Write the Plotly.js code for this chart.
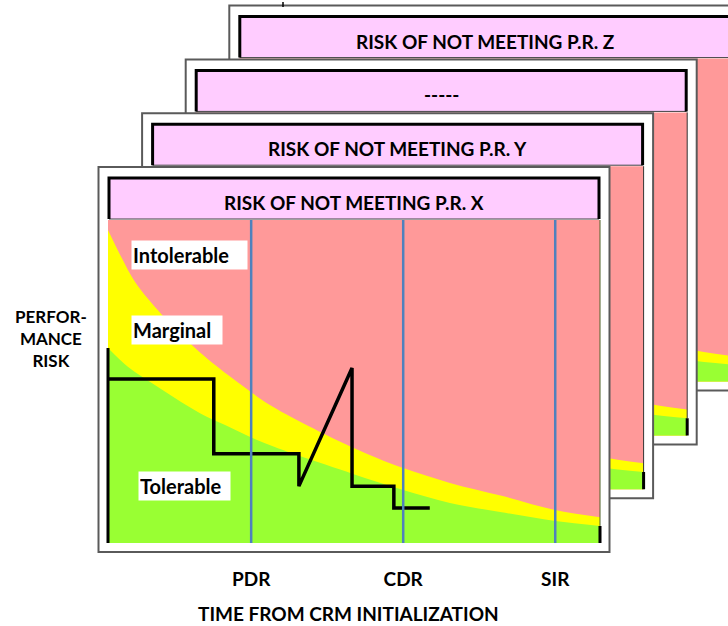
<!DOCTYPE html>
<html><head><meta charset="utf-8">
<script src="https://cdn.plot.ly/plotly-3.0.1.min.js"></script>
<style>html,body{margin:0;padding:0;background:#fff}</style>
</head><body><div id="chart" style="width:728px;height:626px"></div>
<script>
// ---- data ----
const frameTitles = ['RISK OF NOT MEETING P.R. X', 'RISK OF NOT MEETING P.R. Y', '-----', 'RISK OF NOT MEETING P.R. Z'];
// boundary marginal / intolerable
const upperX = [0, 2.8, 5.5, 11, 17.7, 24.4, 28.5, 32.9, 43.1, 53.3, 60, 69.5, 80, 90.9, 100];
const upperY = [96.9, 88.2, 80.8, 70.6, 60.4, 52.0, 47.4, 42.7, 34.4, 27.2, 23.2, 18.6, 14.6, 10.2, 8.0];
// boundary tolerable / marginal
const lowerX = [0, 4.1, 8.9, 13.6, 18.7, 23.8, 28.9, 33.9, 39.0, 49.8, 60, 69.5, 79.7, 90.9, 100];
const lowerY = [60.4, 54.5, 49.5, 44.9, 40.2, 36.5, 32.8, 29.7, 26.9, 21.4, 16.4, 12.4, 9.6, 6.8, 5.3];
// performance risk path
const riskX = [0, 21.5, 21.5, 38.8, 38.8, 49.6, 49.6, 58.1, 58.1, 65.4];
const riskY = [50.8, 50.8, 27.6, 27.6, 17.6, 54.2, 17.6, 17.6, 10.8, 10.8];
// milestones
const milestones = ['PDR', 'CDR', 'SIR'];
const milestoneX = [29.1, 60.0, 90.9];
const zoneLabels = ['Intolerable', 'Marginal', 'Tolerable'];
const xTitle = 'TIME FROM CRM INITIALIZATION';
const yTitle = 'PERFOR-<br>MANCE<br>RISK';

// ---- geometry (pixels) ----
const W = 728, H = 626;
const B = {boxL: 98.5, boxR: 609.5, boxT: 167, boxB: 552, hdrL: 109, hdrR: 599, hdrT: 178, hdrB: 219,
           plotL: 108, plotR: 600, plotT: 220, plotB: 543};
const DX = 43.6, DY = -53.8;
const FONT = "Lato, 'Open Sans', sans-serif";
const FS = 19;
const zonePos = [{x: 4.7, y: 89.2, w: 113}, {x: 4.7, y: 65.9, w: 88}, {x: 6.1, y: 17.6, w: 89}];

const traces = [], shapes = [], annotations = [];
const layout = {
  width: W, height: H, margin: {l: 0, r: 0, t: 0, b: 0},
  paper_bgcolor: '#ffffff', plot_bgcolor: 'rgba(0,0,0,0)', showlegend: false,
  font: {family: FONT, color: '#000'}
};

for (let k = 3; k >= 0; k--) {
  const n = 4 - k;
  const sfx = n === 1 ? '' : String(n);
  const xa = 'x' + sfx, ya = 'y' + sfx;
  const g = {};
  for (const key in B) g[key] = B[key] + ((key.endsWith('L') || key.endsWith('R')) ? DX * k : DY * k);
  const sx = (g.plotR - g.plotL) / 100, sy = (g.plotB - g.plotT) / 100;
  const X = p => (p - g.plotL) / sx, Y = p => (g.plotB - p) / sy;
  const dL = g.boxL - 2, dR = Math.min(g.boxR + 2, W), dT = Math.max(g.boxT - 2, 0), dB = Math.min(g.boxB + 2, H);
  const front = k === 0;
  layout['xaxis' + sfx] = {domain: [dL / W, dR / W], range: [X(dL), X(dR)], anchor: ya, fixedrange: true,
    visible: front, showline: false, showgrid: false, zeroline: false, ticks: '',
    tickmode: 'array', tickvals: milestoneX, ticktext: milestones, ticklabelstandoff: 12,
    tickfont: {family: FONT, size: FS, color: '#000', weight: 700}};
  layout['yaxis' + sfx] = {domain: [1 - dB / H, 1 - dT / H], range: [Y(dB), Y(dT)], anchor: xa, fixedrange: true, visible: false};

  // frame box
  shapes.push({type: 'rect', xref: xa, yref: ya, layer: 'below', x0: X(g.boxL), x1: X(g.boxR), y0: Y(g.boxB), y1: Y(g.boxT),
    fillcolor: '#ffffff', line: {color: '#5a5a5a', width: 2}});
  // header
  shapes.push({type: 'rect', xref: xa, yref: ya, layer: 'below', x0: X(g.hdrL), x1: X(g.hdrR), y0: Y(g.hdrB), y1: Y(g.hdrT),
    fillcolor: '#FFCCFF', line: {color: '#404040', width: 1}});
  shapes.push({type: 'path', xref: xa, yref: ya, layer: 'below',
    path: `M${X(g.hdrL)},${Y(g.hdrB)} L${X(g.hdrL)},${Y(g.hdrT)} L${X(g.hdrR)},${Y(g.hdrT)} L${X(g.hdrR)},${Y(g.hdrB)}`,
    line: {color: '#000', width: 3}});
  // intolerable background
  shapes.push({type: 'rect', xref: xa, yref: ya, layer: 'below', x0: 0, x1: 100, y0: 0, y1: 100,
    fillcolor: '#FF9999', line: {width: 0}});

  traces.push({type: 'scatter', mode: 'lines', x: upperX, y: upperY, xaxis: xa, yaxis: ya, fill: 'tozeroy',
    fillcolor: '#FFFF00', line: {width: 0, shape: 'spline', color: '#FFFF00'}, hoverinfo: 'skip'});
  traces.push({type: 'scatter', mode: 'lines', x: lowerX, y: lowerY, xaxis: xa, yaxis: ya, fill: 'tozeroy',
    fillcolor: '#99FF33', line: {width: 0, shape: 'spline', color: '#99FF33'}, hoverinfo: 'skip'});
  // right edge thin line and axis stubs
  traces.push({type: 'scatter', mode: 'lines', x: [100, 100], y: [lowerY[lowerY.length - 1], 100], xaxis: xa, yaxis: ya,
    line: {color: front ? '#4F6228' : '#333333', width: 1}, hoverinfo: 'skip'});
  traces.push({type: 'scatter', mode: 'lines', x: [0, 0], y: [0, lowerY[0]], xaxis: xa, yaxis: ya,
    line: {color: '#000', width: 3}, hoverinfo: 'skip'});
  traces.push({type: 'scatter', mode: 'lines', x: [100, 100], y: [0, lowerY[lowerY.length - 1]], xaxis: xa, yaxis: ya,
    line: {color: '#000', width: 3}, hoverinfo: 'skip'});

  if (front) {
    traces.push({type: 'scatter', mode: 'lines', x: riskX, y: riskY, xaxis: xa, yaxis: ya,
      line: {color: '#000', width: 3.5}, hoverinfo: 'skip'});
    milestoneX.forEach(v => traces.push({type: 'scatter', mode: 'lines', x: [v, v], y: [0, 100], xaxis: xa, yaxis: ya,
      line: {color: '#4F81BD', width: 2.5}, hoverinfo: 'skip'}));
    zoneLabels.forEach((t, i) => annotations.push({xref: xa, yref: ya, x: zonePos[i].x, y: zonePos[i].y,
      xanchor: 'left', yanchor: 'middle', text: t, showarrow: false, bgcolor: '#ffffff', width: zonePos[i].w, height: 26,
      align: 'left', borderpad: 1, font: {family: FONT, size: 20, color: '#000', weight: 700}}));
  }
  annotations.push({xref: 'paper', yref: 'paper', x: ((g.hdrL + g.hdrR) / 2) / W, y: 1 - ((g.hdrT + g.hdrB) / 2 + 4) / H,
    xanchor: 'center', yanchor: 'middle', text: frameTitles[k], showarrow: false,
    font: {family: FONT, size: FS, color: '#000', weight: 700}});
}
// small stray tick above the rear frame
shapes.push({type: 'line', xref: 'paper', yref: 'paper', x0: 283 / W, x1: 283 / W, y0: 1 - 2 / H, y1: 1 - 7 / H,
  line: {color: '#000', width: 1.5}});
annotations.push({xref: 'paper', yref: 'paper', x: 348.5 / W, y: 1 - 613 / H, xanchor: 'center', yanchor: 'middle',
  text: xTitle, showarrow: false, font: {family: FONT, size: FS, color: '#000', weight: 700}});
annotations.push({xref: 'paper', yref: 'paper', x: 51 / W, y: 1 - 338 / H, xanchor: 'center', yanchor: 'middle',
  text: yTitle, showarrow: false, font: {family: FONT, size: 17, color: '#000', weight: 700}});

layout.shapes = shapes;
layout.annotations = annotations;
Plotly.newPlot('chart', traces, layout, {staticPlot: true, displayModeBar: false});
</script></body></html>
